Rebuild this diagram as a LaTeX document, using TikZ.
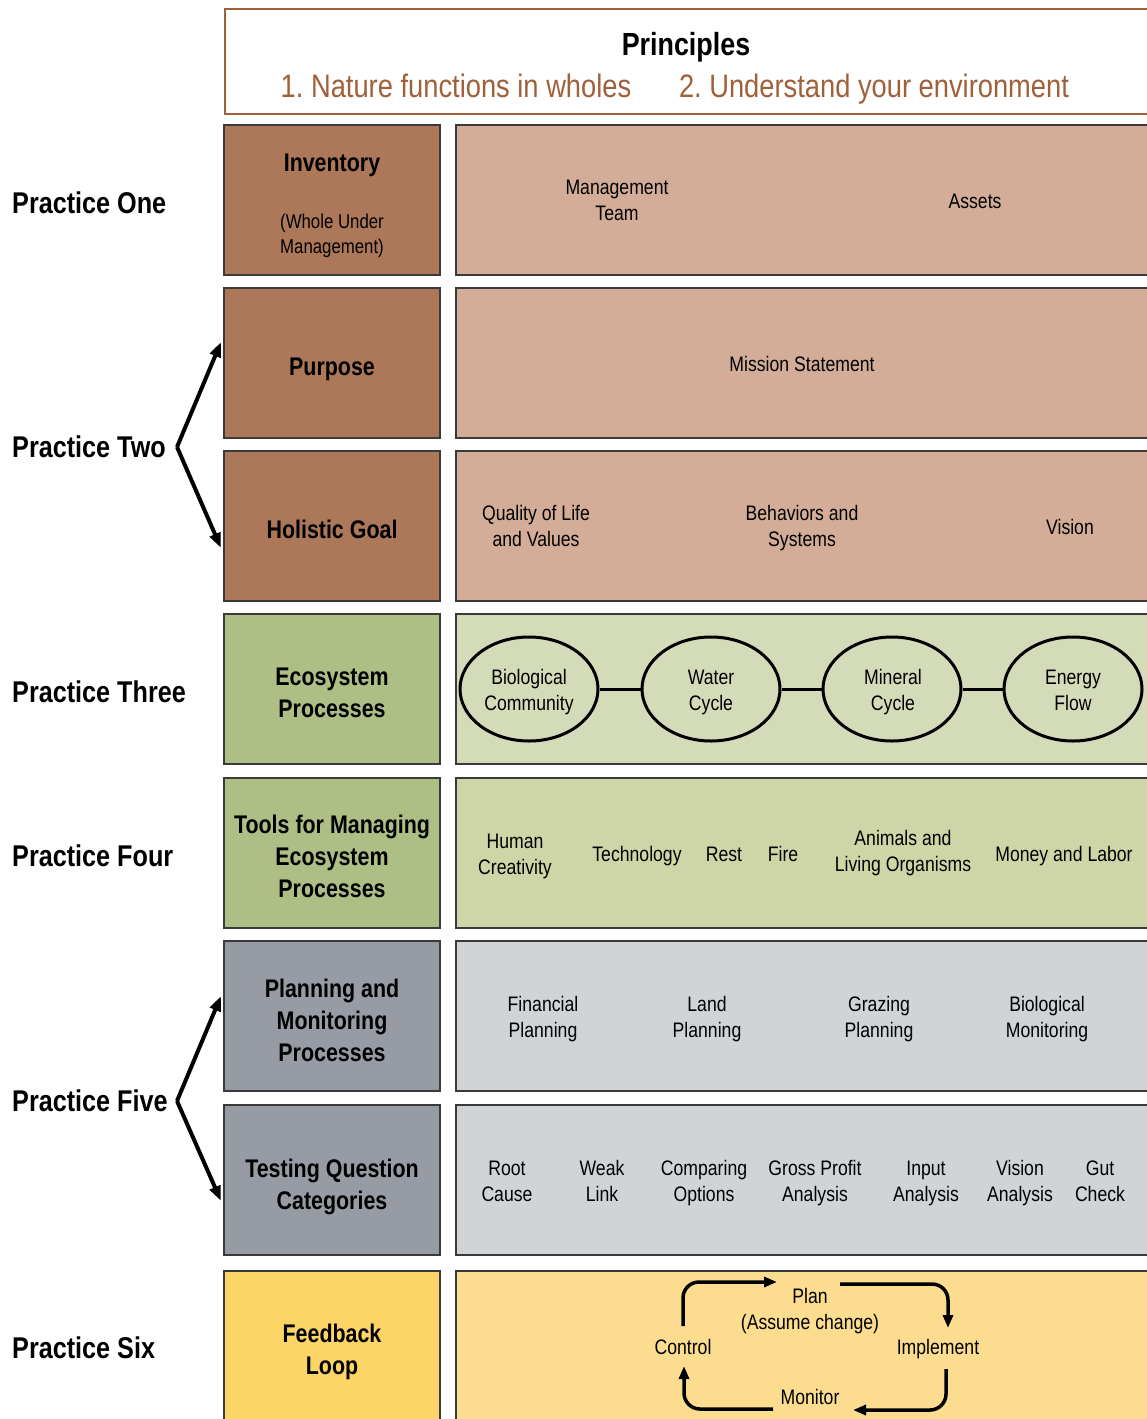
\documentclass[tikz,border=0pt]{standalone}
\usepackage{fontspec}
\setmainfont{Liberation Sans}[FakeStretch=0.84]
\usetikzlibrary{arrows.meta,shapes.geometric}
\definecolor{brD}{HTML}{AD7759}
\definecolor{brL}{HTML}{D4AD98}
\definecolor{grD}{HTML}{ADBF85}
\definecolor{grL}{HTML}{D4DBB8}
\definecolor{grM}{HTML}{CED6A8}
\definecolor{gyD}{HTML}{979CA4}
\definecolor{gyL}{HTML}{D0D4D7}
\definecolor{ylD}{HTML}{FDD466}
\definecolor{ylL}{HTML}{FCDD90}
\definecolor{princ}{HTML}{A0603A}
\definecolor{edge}{HTML}{3A3A3A}
\tikzset{
  lbox/.style={draw=edge, line width=1.8pt, fill=#1, minimum width=216pt, minimum height=150pt, inner sep=0pt},
  rbox/.style={draw=edge, line width=1.8pt, fill=#1, minimum width=694pt, minimum height=150pt, inner sep=0pt},
  ltxt/.style={align=center, font=\fontsize{25.5}{32}\selectfont\bfseries, inner sep=0pt,
    execute at begin node=\strut, execute at end node=\strut},
  rtxt/.style={align=center, font=\fontsize{21}{26}\selectfont, inner sep=0pt,
    execute at begin node=\strut, execute at end node=\strut},
  plabel/.style={anchor=west, font=\fontsize{30}{36}\selectfont\bfseries, inner sep=0pt},
  ell/.style={ellipse, draw=black, line width=3pt, minimum width=138pt, minimum height=104pt, inner sep=0pt},
  bigarr/.style={line width=4pt, -{Triangle[length=15pt,width=11pt]}},
  looparr/.style={line width=3.5pt, rounded corners=16pt, -{Triangle[length=13pt,width=10pt]}}
}
\begin{document}
\begin{tikzpicture}[x=1pt,y=-1pt]
\useasboundingbox (0,0) rectangle (1147,1419);
\fill[white] (0,0) rectangle (1147,1419);

% Principles
\node[draw=princ, line width=2pt, minimum width=924pt, minimum height=105pt, anchor=north west, inner sep=0pt] (prbox) at (224,8) {};
\node[font=\fontsize{32}{38}\selectfont\bfseries, inner sep=0pt, anchor=base] (prt) at (686,55) {Principles};
\node[font=\fontsize{32.5}{38}\selectfont, text=princ, inner sep=0pt, anchor=base] (pr1) at (456,97) {1.\ Nature functions in wholes};
\node[font=\fontsize{32.5}{38}\selectfont, text=princ, inner sep=0pt, anchor=base] (pr2) at (874,97) {2.\ Understand your environment};

% Practice labels
\node[plabel] (p1) at (12,203) {Practice One};
\node[plabel] (p2) at (12,447) {Practice Two};
\node[plabel] (p3) at (12,692) {Practice Three};
\node[plabel] (p4) at (12,856) {Practice Four};
\node[plabel] (p5) at (12,1101) {Practice Five};
\node[plabel] (p6) at (12,1348) {Practice Six};

% Row 1
\node[lbox=brD] (inv) at (332,200) {};
\node[ltxt] (invt) at (332,165.5) {Inventory};
\node[rtxt, font=\fontsize{20}{25}\selectfont] (invs) at (332,238) {(Whole Under\\Management)};
\node[rbox=brL] (r1) at (803,200) {};
\node[rtxt] (mt) at (617,204) {Management\\Team};
\node[rtxt] (as) at (975,203) {Assets};

% Row 2
\node[lbox=brD] (pur) at (332,363) {};
\node[ltxt] (purt) at (332,369) {Purpose};
\node[rbox=brL] (r2) at (803,363) {};
\node[rtxt] (ms) at (802,366) {Mission Statement};

% Row 3
\node[lbox=brD] (hg) at (332,526) {};
\node[ltxt] (hgt) at (332,532) {Holistic Goal};
\node[rbox=brL] (r3) at (803,526) {};
\node[rtxt] (ql) at (536,530) {Quality of Life\\and Values};
\node[rtxt] (bs) at (802,530) {Behaviors and\\Systems};
\node[rtxt] (vi) at (1070,529) {Vision};

% Row 4
\node[lbox=grD] (ep) at (332,689) {};
\node[ltxt] (ept) at (332,697.5) {Ecosystem\\Processes};
\node[rbox=grL] (r4) at (803,689) {};
\node[ell] (bio) at (529,689) {};
\node[ell] (wat) at (711,689) {};
\node[ell] (min) at (892,689) {};
\node[ell] (ene) at (1073,689) {};
\node[rtxt] (biot) at (529,694) {Biological\\Community};
\node[rtxt] (watt) at (711,694) {Water\\Cycle};
\node[rtxt] (mint) at (893,694) {Mineral\\Cycle};
\node[rtxt] (enet) at (1073,694) {Energy\\Flow};
\draw[line width=3pt] (bio) -- (wat);
\draw[line width=3pt] (wat) -- (min);
\draw[line width=3pt] (min) -- (ene);

% Row 5
\node[lbox=grD] (tm) at (332,853) {};
\node[ltxt] (tmt) at (332,861.5) {Tools for Managing\\Ecosystem\\Processes};
\node[rbox=grM] (r5) at (803,853) {};
\node[rtxt] (hc) at (515,858) {Human\\Creativity};
\node[rtxt] (tech) at (637,856) {Technology};
\node[rtxt] (rest) at (724,856) {Rest};
\node[rtxt] (fire) at (783,856) {Fire};
\node[rtxt] (anim) at (903,855) {Animals and\\Living Organisms};
\node[rtxt] (mon) at (1064,856) {Money and Labor};

% Row 6
\node[lbox=gyD] (pm) at (332,1016) {};
\node[ltxt] (pmt) at (332,1025.5) {Planning and\\Monitoring\\Processes};
\node[rbox=gyL] (r6) at (803,1016) {};
\node[rtxt] (fp) at (543,1021) {Financial\\Planning};
\node[rtxt] (lp) at (707,1021) {Land\\Planning};
\node[rtxt] (gp) at (879,1021) {Grazing\\Planning};
\node[rtxt] (bm) at (1047,1021) {Biological\\Monitoring};

% Row 7
\node[lbox=gyD] (tq) at (332,1180) {};
\node[ltxt] (tqt) at (332,1189.5) {Testing Question\\Categories};
\node[rbox=gyL] (r7) at (803,1180) {};
\node[rtxt] (rc) at (507,1185) {Root\\Cause};
\node[rtxt] (wl) at (602,1185) {Weak\\Link};
\node[rtxt] (co) at (704,1185) {Comparing\\Options};
\node[rtxt] (gpa) at (815,1185) {Gross Profit\\Analysis};
\node[rtxt] (ia) at (926,1185) {Input\\Analysis};
\node[rtxt] (va) at (1020,1185) {Vision\\Analysis};
\node[rtxt] (gc) at (1100,1185) {Gut\\Check};

% Row 8
\node[lbox=ylD] (fb) at (332,1346) {};
\node[ltxt] (fbt) at (332,1354.5) {Feedback\\Loop};
\node[rbox=ylL] (r8) at (803,1346) {};
\node[rtxt] (plan) at (810,1313) {Plan\\(Assume change)};
\node[rtxt] (ctrl) at (683,1349) {Control};
\node[rtxt] (impl) at (938,1349) {Implement};
\node[rtxt] (moni) at (810,1399) {Monitor};

\coordinate (a1s) at (683,1326);
\coordinate (a1e) at (777,1282);
\coordinate (a2s) at (840,1284);
\coordinate (a2e) at (948,1328);
\coordinate (a3s) at (946,1369);
\coordinate (a3e) at (853,1410);
\coordinate (a4s) at (773,1409);
\coordinate (a4e) at (684,1366);
\draw[looparr] (a1s) |- (a1e);
\draw[looparr] (a2s) -| (a2e);
\draw[looparr] (a3s) |- (a3e);
\draw[looparr] (a4s) -| (a4e);

% Practice arrows
\coordinate (v2) at (177,447);
\coordinate (v2a) at (221,342);
\coordinate (v2b) at (221,548);
\draw[bigarr] (v2) -- (v2a);
\draw[bigarr] (v2) -- (v2b);
\coordinate (v5) at (177,1101);
\coordinate (v5a) at (221,996);
\coordinate (v5b) at (221,1201);
\draw[bigarr] (v5) -- (v5a);
\draw[bigarr] (v5) -- (v5b);
\end{tikzpicture}
\end{document}
